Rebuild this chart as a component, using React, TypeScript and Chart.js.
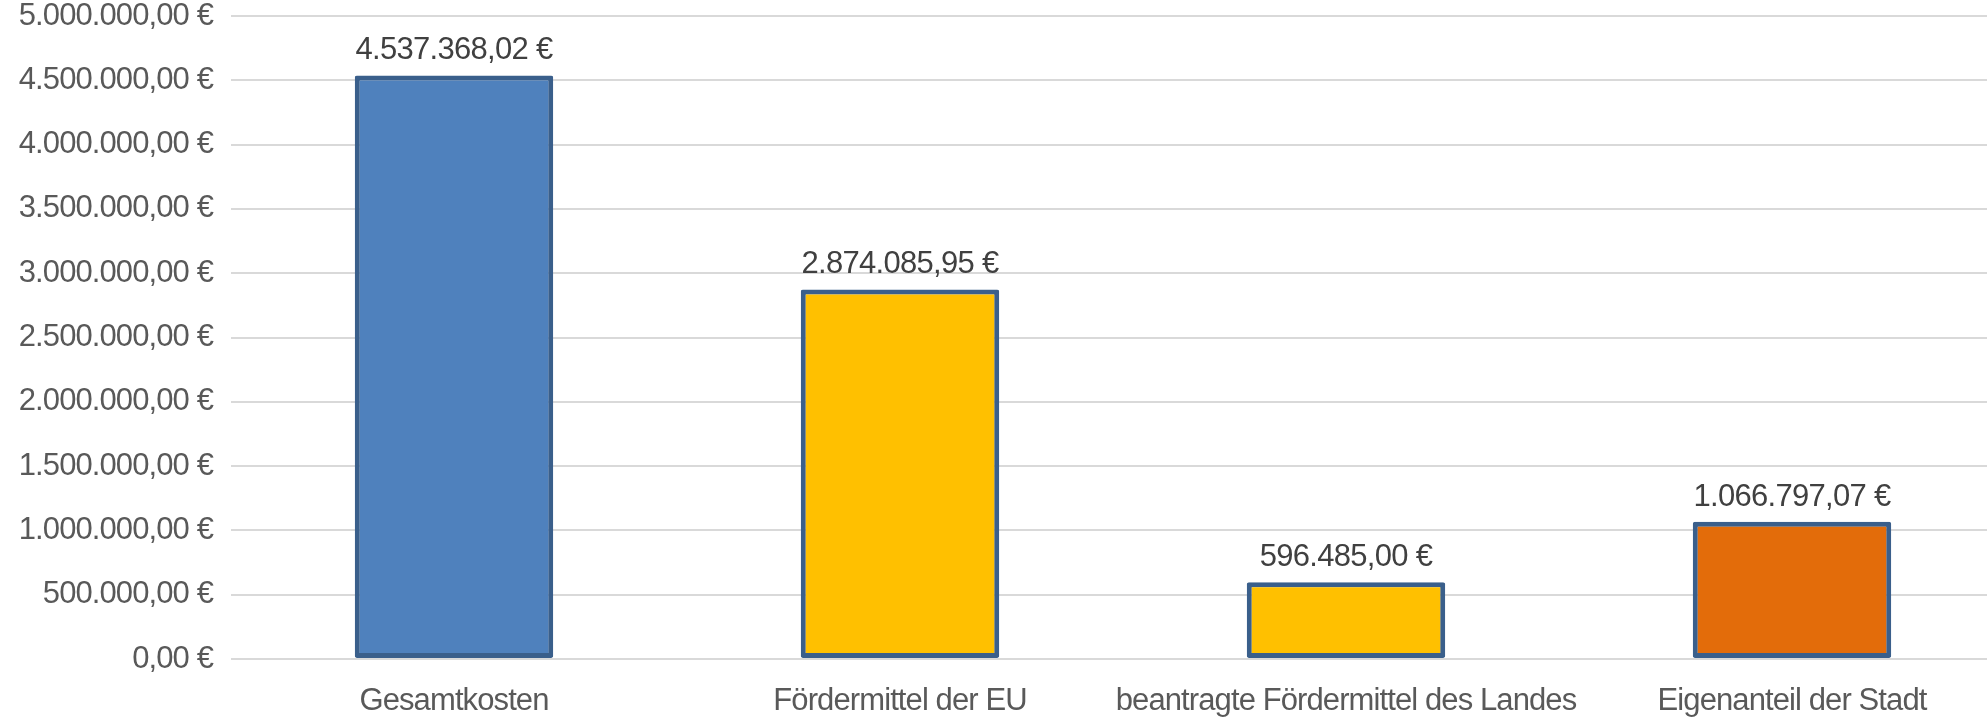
import React, { useEffect, useRef } from 'react';
import { Chart, registerables } from 'chart.js';

Chart.register(...registerables);

const categories: string[] = [
  'Gesamtkosten',
  'Fördermittel der EU',
  'beantragte Fördermittel des Landes',
  'Eigenanteil der Stadt',
];
const amounts: number[] = [4537368.02, 2874085.95, 596485.0, 1066797.07];
const barColors: string[] = ['#4f81bd', '#ffc000', '#ffc000', '#e36c0a'];
const yMin = 0;
const yMax = 5000000;
const yStep = 500000;

const FONT = '"Liberation Sans", Arial, Helvetica, sans-serif';
const FONT_SIZE = 31;
const LETTER_SPACING = '-0.9px';

function euro(v: number): string {
  const [i, d] = Math.abs(v).toFixed(2).split('.');
  const int = i.replace(/\B(?=(\d{3})+(?!\d))/g, '.');
  return (v < 0 ? '-' : '') + int + ',' + d + ' €';
}

const condensedText = {
  id: 'condensedText',
  beforeDraw(chart: any) {
    (chart.ctx as any).letterSpacing = LETTER_SPACING;
  },
};

const valueLabels = {
  id: 'valueLabels',
  afterDatasetsDraw(chart: any) {
    const ctx = chart.ctx;
    const meta = chart.getDatasetMeta(0);
    ctx.save();
    (ctx as any).letterSpacing = '-0.7px';
    ctx.font = `${FONT_SIZE}px ${FONT}`;
    ctx.fillStyle = '#404040';
    ctx.textAlign = 'center';
    ctx.textBaseline = 'alphabetic';
    meta.data.forEach((bar: any, i: number) => {
      ctx.fillText(euro(amounts[i]), bar.x, bar.y - 16);
    });
    ctx.restore();
  },
};

export default function App() {
  const canvasRef = useRef<HTMLCanvasElement | null>(null);

  useEffect(() => {
    if (!canvasRef.current) return;
    const chart = new Chart(canvasRef.current, {
      type: 'bar',
      data: {
        labels: categories,
        datasets: [
          {
            data: amounts,
            backgroundColor: barColors,
            borderColor: '#3a5f8b',
            borderWidth: 5,
            borderRadius: 2,
            borderSkipped: false,
            categoryPercentage: 1,
            barPercentage: 0.445,
          },
        ],
      },
      options: {
        animation: false,
        responsive: false,
        devicePixelRatio: 1,
        layout: { padding: { top: 0, left: 0, right: 0, bottom: 0 } },
        plugins: {
          legend: { display: false },
          tooltip: { enabled: false },
        },
        scales: {
          x: {
            grid: { display: false, drawTicks: false },
            border: { display: false },
            ticks: {
              color: '#595959',
              font: { family: FONT, size: FONT_SIZE },
              padding: 24,
              maxRotation: 0,
              autoSkip: false,
            },
            afterFit: (scale: any) => {
              scale.height = 64;
            },
          },
          y: {
            min: yMin,
            max: yMax,
            grid: { color: '#d9d9d9', lineWidth: 2, drawTicks: false },
            border: { display: false },
            ticks: {
              stepSize: yStep,
              color: '#595959',
              font: { family: FONT, size: FONT_SIZE },
              padding: 18,
              callback: (v: any) => euro(Number(v)),
            },
            afterFit: (scale: any) => {
              scale.width = 231;
              scale.paddingTop = 16;
            },
          },
        },
      },
      plugins: [condensedText, valueLabels],
    });
    return () => chart.destroy();
  }, []);

  return (
    <div
      style={{
        position: 'absolute',
        left: 0,
        top: 0,
        width: 1987,
        height: 723,
        overflow: 'hidden',
        background: '#ffffff',
      }}
    >
      <canvas ref={canvasRef} width={2015} height={723} style={{ display: 'block' }} />
    </div>
  );
}
